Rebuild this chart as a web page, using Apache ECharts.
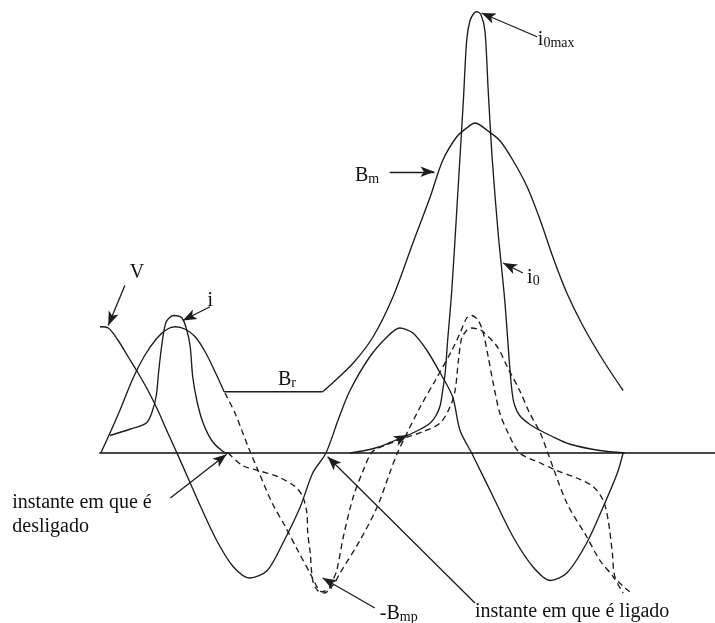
<!DOCTYPE html>
<html>
<head>
<meta charset="utf-8">
<script src="https://cdn.jsdelivr.net/npm/echarts@6/dist/echarts.min.js"></script>
<style>
  html, body { margin: 0; padding: 0; background: #fff; }
  #c { width: 715px; height: 623px; }
</style>
</head>
<body>
<div id="c"></div>
<script>
// x: electrical angle in degrees, y: magnitude in per-unit

// supply voltage V
const tensao = [[0,1.01],[10,1.00],[22,0.90],[34,0.77],[46,0.64],[58,0.50],[70,0.34],[82,0.16],[93,0],
  [107,-0.21],[121,-0.42],[141,-0.70],[161,-0.91],[181,-1.00],[202,-0.94],[221,-0.72],[242,-0.43],[257,-0.16],[273,0],
  [288,0.27],[302,0.50],[326,0.77],[347,0.93],[362,1.00],[378,0.96],[395,0.82],[411,0.64],[426,0.45],[435,0.18],[449,0],
  [455,-0.08],[475,-0.35],[499,-0.67],[523,-0.91],[544,-1.02],[564,-0.96],[588,-0.72],[608,-0.43],[625,-0.16],[632,0]];

// flux before switching off, remanent flux Br, flux after switching on (Bm)
const fluxoAntes = [[1,0],[12,0.16],[24,0.34],[40,0.60],[54,0.78],[69,0.92],[81,0.99],[91,1.01],[103,0.99],
  [115,0.93],[127,0.81],[139,0.65],[150,0.49]];
const fluxoRemanente = [[150,0.49],[269,0.49]];
const fluxoLigacao = [[269,0.49],[281,0.56],[306,0.72],[330,0.93],[354,1.25],[378,1.68],[399,2.05],[414,2.34],
  [431,2.53],[443,2.60],[453,2.64],[468,2.58],[483,2.50],[499,2.34],[516,2.13],[532,1.86],[547,1.57],
  [564,1.28],[584,1.01],[608,0.74],[632,0.50]];

// magnetising current i before switching off
const correnteAntes = [[12,0.14],[36,0.19],[56,0.24],[63,0.33],[68,0.46],[71,0.66],[75,0.88],[80,1.05],
  [89,1.10],[99,1.08],[105,0.98],[109,0.85],[112,0.61],[117,0.42],[124,0.25],[135,0.10],[149,0.01],[155,0]];

// inrush current i0
const correnteInrush = [[302,0],[320,0.02],[338,0.05],[356,0.10],[371,0.14],[387,0.19],[399,0.24],[406,0.30],
  [411,0.38],[414,0.50],[417,0.64],[420,0.90],[425,1.30],[431,1.94],[439,2.82],[443,3.30],[447,3.46],
  [452,3.52],[455,3.53],[460,3.51],[465,3.38],[469,2.90],[474,2.34],[481,1.76],[489,1.22],[495,0.69],
  [498,0.48],[501,0.38],[507,0.30],[519,0.23],[532,0.18],[544,0.14],[568,0.07],[604,0.02],[634,0]];

// steady-state waveforms had the transformer stayed energised (dashed)
const fluxoRegime = [[151,0.48],[163,0.32],[179,0.05],[191,-0.14],[208,-0.40],[224,-0.59],[239,-0.78],
  [256,-0.99],[263,-1.08],[268,-1.11],[281,-1.06],[290,-0.96],[314,-0.70],[335,-0.43],[350,-0.16],[360,0.01],
  [387,0.37],[405,0.58],[425,0.82],[435,0.96],[443,1.08],[449,1.10],[457,1.06],[463,0.96],[469,0.77],
  [475,0.56],[483,0.32],[493,0.16],[507,0],[532,-0.08],[552,-0.14],[576,-0.20],[596,-0.27],[608,-0.38],
  [614,-0.54],[619,-0.80],[622,-0.99],[631,-1.06],[640,-1.11]];
const correnteRegime = [[155,0],[172,-0.10],[191,-0.14],[215,-0.19],[236,-0.27],[245,-0.35],[250,-0.48],
  [251,-0.64],[254,-0.80],[257,-1.02],[263,-1.10],[272,-1.12],[281,-1.02],[286,-0.94],[294,-0.67],[306,-0.35],
  [318,-0.14],[329,0.01],[344,0.06],[368,0.12],[390,0.17],[411,0.24],[423,0.37],[429,0.50],[433,0.74],
  [437,0.92],[443,0.98],[449,1.00],[457,0.99],[463,0.97],[480,0.85],[492,0.69],[507,0.50],[519,0.32],
  [532,0.16],[541,0],[564,-0.40],[588,-0.67],[604,-0.86],[620,-0.99],[632,-1.12]];

// annotation arrows: [tail, head] in axis units
const setas = [
  [[30,1.34],[10,1.02]],
  [[133,1.17],[100,1.06]],
  [[350,2.25],[404,2.25]],
  [[528,3.33],[461,3.52]],
  [[511,1.44],[487,1.52]],
  [[332,-1.24],[269,-1.00]],
  [[453,-1.20],[275,-0.03]],
  [[85,-0.36],[153,-0.01]],
  [[358,0.10],[372,0.145]]
];

// text labels: baseline-left anchor in axis units
const etiquetas = [
  { em: [36, 1.408], texto: '{n|V}' },
  { em: [130, 1.184], texto: '{n|i}' },
  { em: [215, 0.552], texto: '{n|B}{r|r}' },
  { em: [308, 2.184], texto: '{n|B}{s|m}' },
  { em: [529, 3.272], texto: '{n|i}{s|0max}' },
  { em: [516, 1.368], texto: '{n|i}{s|0}' },
  { em: [338, -1.32], texto: '{n|-B}{s|mp}' },
  { em: [453, -1.304], texto: '{n|instante em que é ligado}' },
  { em: [-106, -0.432], texto: '{n|instante em que é}\n{n|desligado}' }
];

const FONTE = '"Liberation Serif", "Times New Roman", serif';
const TINTA = '#1c1c1c';

function curva(nome, dados, tracejada) {
  return {
    type: 'line', name: nome, data: dados, showSymbol: false, silent: true,
    smooth: 0.3, animation: false,
    lineStyle: { color: TINTA, width: 1.35, type: tracejada ? [6, 4] : 'solid' }
  };
}

const chart = echarts.init(document.getElementById('c'));

const serieTensao = curva('V', tensao, false);
serieTensao.markLine = {
  silent: true, animation: false,
  symbol: ['none', 'arrow'], symbolSize: [8, 14],
  label: { show: false },
  lineStyle: { color: TINTA, width: 1.3, type: 'solid' },
  emphasis: { disabled: true },
  data: setas.map(s => [{ coord: s[0] }, { coord: s[1] }])
};

chart.setOption({
  animation: false,
  backgroundColor: '#ffffff',
  grid: { left: 100, right: 0, top: 3, bottom: 0 },
  xAxis: {
    type: 'value', min: 0, max: 743,
    axisLine: { show: true, onZero: true, lineStyle: { color: '#4a4a4a', width: 2 } },
    axisTick: { show: false }, axisLabel: { show: false }, splitLine: { show: false }
  },
  yAxis: {
    type: 'value', min: -1.36, max: 3.6, show: false, splitLine: { show: false }
  },
  series: [
    curva('regime B', fluxoRegime, true),
    curva('regime i', correnteRegime, true),
    serieTensao,
    curva('B', fluxoAntes, false),
    curva('Br', fluxoRemanente, false),
    curva('Bm', fluxoLigacao, false),
    curva('i', correnteAntes, false),
    curva('i0', correnteInrush, false)
  ]
});

const rich = {
  n: { fontFamily: FONTE, fontSize: 20, lineHeight: 24, color: '#111', verticalAlign: 'bottom' },
  s: { fontFamily: FONTE, fontSize: 14, lineHeight: 20, color: '#111', verticalAlign: 'bottom' },
  r: { fontFamily: FONTE, fontSize: 14, lineHeight: 18, color: '#111', verticalAlign: 'bottom' }
};

const textos = etiquetas.map(e => {
  const p = chart.convertToPixel({ gridIndex: 0 }, e.em);
  const linhas = e.texto.split('\n').length;
  return {
    type: 'text', x: p[0], y: p[1] + 6, silent: true,
    style: {
      text: e.texto, rich: rich, fill: '#111',
      font: '20px ' + FONTE,
      align: 'left', textAlign: 'left',
      verticalAlign: linhas > 1 ? 'top' : 'bottom',
      textVerticalAlign: linhas > 1 ? 'top' : 'bottom'
    }
  };
});
// the two-line label is anchored at its top line
textos[textos.length - 1].y -= 24;

chart.setOption({ graphic: textos });
</script>
</body>
</html>
